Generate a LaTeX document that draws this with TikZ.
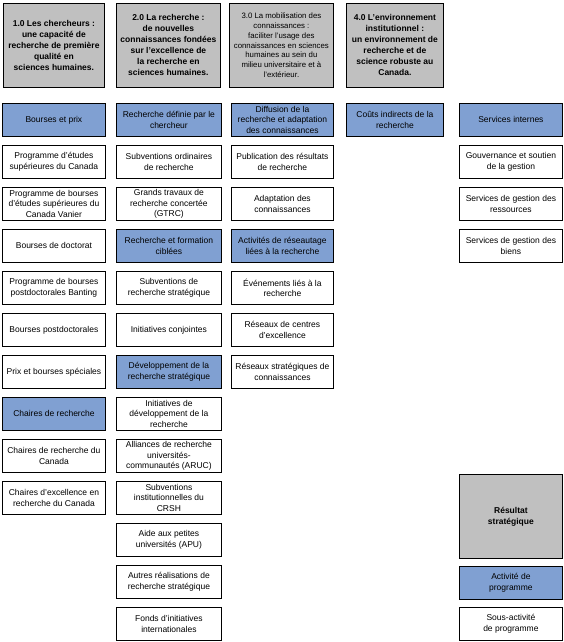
\documentclass[tikz,border=0pt]{standalone}
\usepackage{fontspec}
\setmainfont{Liberation Sans}
\usepackage{tikz}
\definecolor{hdrgray}{RGB}{192,192,192}
\definecolor{actblue}{RGB}{128,160,210}
\tikzset{
	cell/.style={draw=black, line width=0.8pt, anchor=north west, minimum height=33pt, inner sep=0pt, align=center, font=\fontsize{8.5}{10.4}\selectfont},
	act/.style={cell, fill=actblue},
	head/.style={cell, fill=hdrgray, minimum height=84pt, font=\bfseries\fontsize{8.5}{11}\selectfont},
	headlight/.style={head, font=\fontsize{7.8}{9.8}\selectfont}
}

\begin{document}
\begin{tikzpicture}[x=1pt, y=-1pt]
			%%%%% START %%%%%
			\useasboundingbox (0, 0) rectangle (564, 642);
			
			% resultats strategiques
			\node[head, minimum width=101pt] (h1) at (3, 3) {1.0 Les chercheurs :\\une capacité de\\recherche de première\\qualité en\\sciences humaines.};
			\node[head, minimum width=104pt] (h2) at (116, 3) {2.0 La recherche :\\de nouvelles\\connaissances fondées\\sur l'excellence de\\la recherche en\\sciences humaines.};
			\node[headlight, minimum width=104pt] (h3) at (229, 3) {3.0 La mobilisation des\\connaissances :\\faciliter l'usage des\\connaissances en sciences\\humaines au sein du\\milieu universitaire et à\\l'extérieur.};
			\node[head, minimum width=97pt] (h4) at (346, 3) {4.0 L'environnement\\institutionnel :\\un environnement de\\recherche et de\\science robuste au\\Canada.};
			
			% colonne 1
			\node[act, minimum width=103pt] (bourses) at (2, 103) {Bourses et prix};
			\node[cell, minimum width=103pt] (etudes) at (2, 145) {Programme d'études\\supérieures du Canada};
			\node[cell, minimum width=103pt] (vanier) at (2, 187) {Programme de bourses\\d'études supérieures du\\Canada Vanier};
			\node[cell, minimum width=103pt] (doctorat) at (2, 229) {Bourses de doctorat};
			\node[cell, minimum width=103pt] (banting) at (2, 271) {Programme de bourses\\postdoctorales Banting};
			\node[cell, minimum width=103pt] (postdoc) at (2, 313) {Bourses postdoctorales};
			\node[cell, minimum width=103pt] (prix) at (2, 355) {Prix et bourses spéciales};
			\node[act, minimum width=103pt] (chaires) at (2, 397) {Chaires de recherche};
			\node[cell, minimum width=103pt] (crc) at (2, 439) {Chaires de recherche du\\Canada};
			\node[cell, minimum width=103pt] (cerc) at (2, 481) {Chaires d'excellence en\\recherche du Canada};
			
			% colonne 2
			\node[act, minimum width=105pt] (definie) at (116, 103) {Recherche définie par le\\chercheur};
			\node[cell, minimum width=105pt] (ordinaires) at (116, 145) {Subventions ordinaires\\de recherche};
			\node[cell, minimum width=105pt] (gtrc) at (116, 187) {Grands travaux de\\recherche concertée\\(GTRC)};
			\node[act, minimum width=105pt] (ciblees) at (116, 229) {Recherche et formation\\ciblées};
			\node[cell, minimum width=105pt] (strategique) at (116, 271) {Subventions de\\recherche stratégique};
			\node[cell, minimum width=105pt] (conjointes) at (116, 313) {Initiatives conjointes};
			\node[act, minimum width=105pt] (developpement) at (116, 355) {Développement de la\\recherche stratégique};
			\node[cell, minimum width=105pt] (initiatives) at (116, 397) {Initiatives de\\développement de la\\recherche};
			\node[cell, minimum width=105pt] (aruc) at (116, 439) {Alliances de recherche\\universités-\\communautés (ARUC)};
			\node[cell, minimum width=105pt] (crsh) at (116, 481) {Subventions\\institutionnelles du\\CRSH};
			\node[cell, minimum width=105pt] (apu) at (116, 523) {Aide aux petites\\universités (APU)};
			\node[cell, minimum width=105pt] (autres) at (116, 565) {Autres réalisations de\\recherche stratégique};
			\node[cell, minimum width=105pt] (fonds) at (116, 607) {Fonds d'initiatives\\internationales};
			
			% colonne 3
			\node[act, minimum width=102pt] (diffusion) at (231, 103) {Diffusion de la\\recherche et adaptation\\des connaissances};
			\node[cell, minimum width=102pt] (publication) at (231, 145) {Publication des résultats\\de recherche};
			\node[cell, minimum width=102pt] (adaptation) at (231, 187) {Adaptation des\\connaissances};
			\node[act, minimum width=102pt] (reseautage) at (231, 229) {Activités de réseautage\\liées à la recherche};
			\node[cell, minimum width=102pt] (evenements) at (231, 271) {Événements liés à la\\recherche};
			\node[cell, minimum width=102pt] (rce) at (231, 313) {Réseaux de centres\\d'excellence};
			\node[cell, minimum width=102pt] (rsc) at (231, 355) {Réseaux stratégiques de\\connaissances};
			
			% colonne 4
			\node[act, minimum width=97pt] (indirects) at (346, 103) {Coûts indirects de la\\recherche};
			
			% colonne 5
			\node[act, minimum width=103pt] (internes) at (459, 103) {Services internes};
			\node[cell, minimum width=103pt] (gouvernance) at (459, 145) {Gouvernance et soutien\\de la gestion};
			\node[cell, minimum width=103pt] (ressources) at (459, 187) {Services de gestion des\\ressources};
			\node[cell, minimum width=103pt] (biens) at (459, 229) {Services de gestion des\\biens};
			
			% legende
			\node[head, minimum width=103pt] (resultat) at (459, 474) {Résultat\\stratégique};
			\node[act, minimum width=103pt] (activite) at (459, 566) {Activité de\\programme};
			\node[cell, minimum width=103pt] (sousactivite) at (459, 607) {Sous-activité\\de programme};
			
			%%%%% END %%%%%
\end{tikzpicture}
\end{document}
